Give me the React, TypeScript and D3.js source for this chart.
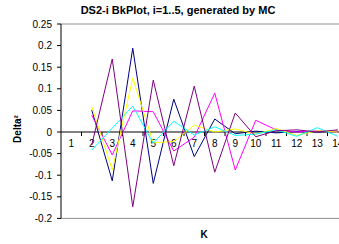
import React from "react";
import * as d3 from "d3";

const categories = [1, 2, 3, 4, 5, 6, 7, 8, 9, 10, 11, 12, 13, 14];
const yTicks = [0.25, 0.2, 0.15, 0.1, 0.05, 0, -0.05, -0.1, -0.15, -0.2];
const seriesNavy = [null, 0.051, -0.113, 0.194, -0.119, 0.076, -0.057, 0.030, -0.004, 0.002, -0.002, 0.001, 0.0, 0.002];
const seriesMagenta = [null, 0.039, -0.053, 0.049, 0.047, -0.044, -0.012, 0.09, -0.088, 0.027, 0.005, 0.0, 0.003, 0.0];
const seriesYellow = [null, 0.059, -0.088, 0.125, -0.025, -0.022, 0.016, 0.0, 0.007, -0.005, 0.008, -0.008, 0.003, 0.0];
const seriesCyan = [null, -0.042, 0.009, 0.06, -0.026, 0.025, -0.007, 0.012, -0.008, -0.005, 0.005, -0.01, 0.01, -0.01];
const seriesPurple = [null, -0.03, 0.169, -0.173, 0.12, -0.078, 0.106, -0.093, 0.044, -0.011, 0.003, 0.005, 0.0, 0.005];

const seriesList = [
  { values: seriesNavy, color: "#000080" },
  { values: seriesMagenta, color: "#FF00FF" },
  { values: seriesYellow, color: "#FFFF00" },
  { values: seriesCyan, color: "#00FFFF" },
  { values: seriesPurple, color: "#800080" },
];

const W = 339;
const H = 244;
const left = 61;
const top = 24;
const step = 20.5;

export default function App() {
  const x = d3
    .scaleBand<number>()
    .domain(categories)
    .range([left, left + categories.length * step])
    .padding(0);
  const y = d3.scaleLinear().domain([-0.2, 0.25]).range([top + 194.4, top]);
  const xc = (k: number) => (x(k) as number) + x.bandwidth() / 2;
  const right = left + categories.length * step;
  const y0 = y(0);

  const line = d3
    .line<number | null>()
    .defined((d) => d !== null)
    .x((_, i) => xc(categories[i]))
    .y((d) => y(d as number));

  const font = "'Liberation Sans', Arial, sans-serif";

  return (
    <svg
      width={W}
      height={H}
      style={{ position: "absolute", left: 0, top: 0, background: "#fff" }}
    >
      <rect x={0} y={0} width={W} height={H} fill="#fff" />
      <text
        x={178}
        y={14}
        textAnchor="middle"
        fontFamily={font}
        fontWeight="bold"
        fontSize={11}
        fill="#000"
      >
        DS2-i BkPlot, i=1..5, generated by MC
      </text>
      {/* plot border */}
      <line x1={left} x2={right} y1={y(0.25)} y2={y(0.25)} stroke="#909090" strokeWidth={1} />
      <line x1={left} x2={right} y1={y(-0.2)} y2={y(-0.2)} stroke="#909090" strokeWidth={1} />
      {/* y axis */}
      <line x1={left} x2={left} y1={y(0.25)} y2={y(-0.2)} stroke="#000" strokeWidth={1} />
      {yTicks.map((t) => (
        <g key={t}>
          <line x1={left - 4} x2={left} y1={y(t)} y2={y(t)} stroke="#000" />
          <text
            x={left - 9}
            y={y(t) + 3.5}
            textAnchor="end"
            fontFamily={font}
            fontSize={10}
            fill="#000"
          >
            {String(t)}
          </text>
        </g>
      ))}
      {/* x axis at zero */}
      <line x1={left} x2={right} y1={y0} y2={y0} stroke="#000" strokeWidth={1} />
      {categories.map((k) => (
        <g key={k}>
          <line
            x1={(x(k) as number) + x.bandwidth()}
            x2={(x(k) as number) + x.bandwidth()}
            y1={y0}
            y2={y0 + 4}
            stroke="#000"
          />
          <text
            x={xc(k)}
            y={y0 + 15}
            textAnchor="middle"
            fontFamily={font}
            fontSize={10}
            fill="#000"
          >
            {k}
          </text>
        </g>
      ))}
      {/* series */}
      {seriesList.map((s, i) => (
        <path
          key={i}
          d={line(s.values) || ""}
          fill="none"
          stroke={s.color}
          strokeWidth={1}
        />
      ))}
      {/* axis labels */}
      <text
        transform={`translate(21,${y0 - 3}) rotate(-90)`}
        textAnchor="middle"
        fontFamily={font}
        fontWeight="bold"
        fontSize={10}
        fill="#000"
      >
        Delta²
      </text>
      <text
        x={204}
        y={238}
        textAnchor="middle"
        fontFamily={font}
        fontWeight="bold"
        fontSize={10}
        fill="#000"
      >
        K
      </text>
    </svg>
  );
}
